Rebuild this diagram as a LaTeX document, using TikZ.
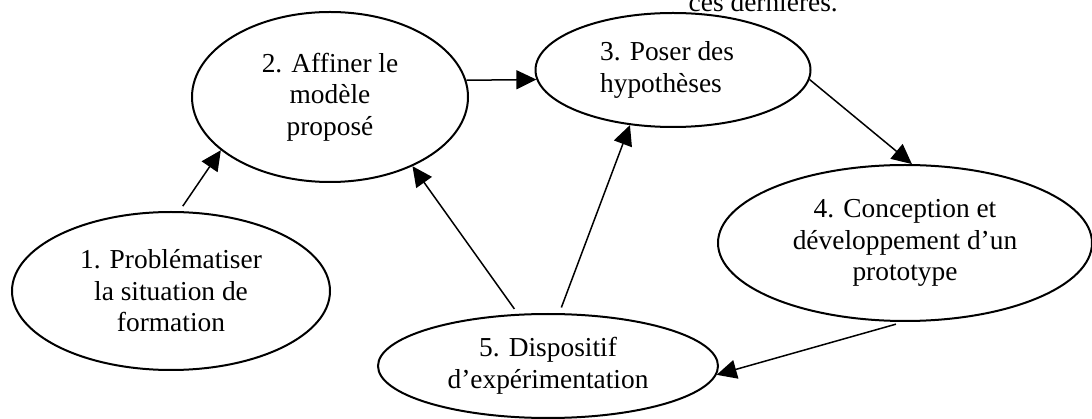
\documentclass[tikz,border=0pt]{standalone}
\usepackage{fontspec}
\setmainfont{Liberation Serif}
\usetikzlibrary{shapes.geometric}
\usetikzlibrary{arrows.meta}

\begin{document}
\begin{tikzpicture}[x=1pt,y=-1pt,
    etape/.style={ellipse,draw,line width=2pt,inner sep=0pt,align=center,font=\taille},
    fleche/.style={line width=1.5pt,-{Triangle[length=20pt,width=19pt]}}]
            % Define the font size and the gaps
            \def\taille{\fontsize{27.4}{31.5}\selectfont}
            \def\g{6pt}  % gap at the start of an arrow

            \clip (0,0) rectangle (1092,419);

            % Text cut at the top of the page
            \node[anchor=base east,inner sep=0pt,font=\taille] (suite) at (838,12) {ces dernières.};

            % Draw the steps
            \node[etape,minimum width=318pt,minimum height=158pt] (E1) at (171,291) {1. Problématiser\\la situation de\\formation};
            \node[etape,minimum width=276pt,minimum height=170pt] (E2) at (330,97) {2. Affiner le\\modèle\\proposé};
            \node[etape,align=left,minimum width=275pt,minimum height=114pt] (E3) at (673,70) {3. Poser des\\hypothèses\hspace*{24pt}};
            \node[etape,minimum width=374pt,minimum height=156pt] (E4) at (905,243) {4. Conception et\\développement d’un\\prototype};
            \node[etape,minimum width=340pt,minimum height=104pt] (E5) at (548,366) {5. Dispositif\\d’expérimentation};

            % Draw the arrows
            \draw[fleche,shorten <=\g] (E1.84) -- (E2.206);
            \draw[fleche] (E2.7) -- (E3.184);
            \draw[fleche] (E3.356) -- (E4.85);
            \draw[fleche,shorten <=8pt] (E4.269) -- (E5.357);
            \draw[fleche,shorten <=\g] (E5.120) -- (E2.320);
            \draw[fleche,shorten <=\g] (E5.78) -- (E3.232);
        \end{tikzpicture}
\end{document}
